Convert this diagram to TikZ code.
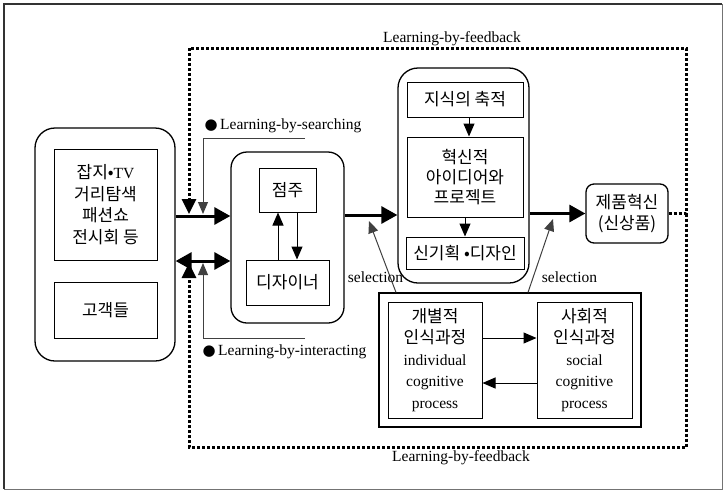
\documentclass[tikz,border=0pt]{standalone}
\usepackage{fontspec}
\setmainfont{Liberation Serif}
\newfontfamily\kr{Noto Sans CJK KR}
\newfontfamily\sym{DejaVu Sans}
\usetikzlibrary{arrows.meta}
\newcommand*{\TxtSize}{\fontsize{15.5}{21.5}\selectfont}
\newcommand*{\KrSize}{\fontsize{17}{21.5}\selectfont}
\newcommand*{\Lat}[1]{{\rmfamily\TxtSize #1}}

\begin{document}
\begin{tikzpicture}[x=1pt,y=-1pt,font=\TxtSize,
    group/.style={draw,line width=1.3pt,rounded corners=#1,inner sep=0pt},
    box/.style={draw,line width=1pt,inner sep=0pt,align=center,font=\kr\KrSize},
    thickarr/.style={line width=3pt,-{Triangle[length=16pt,width=17pt]}},
    dblarr/.style={line width=3pt,{Triangle[length=16pt,width=17pt]}-{Triangle[length=16pt,width=17pt]}},
    thinarr/.style={line width=1pt,-{Triangle[length=13pt,width=11pt]}},
    linkarr/.style={line width=1pt,black!75,-{Triangle[length=12pt,width=10pt]}},
    fb/.style={line width=3pt,dash pattern=on 3pt off 2pt,-{Triangle[length=15pt,width=14pt]}}]
    \useasboundingbox (0,0) rectangle (727,491);
    \draw[line width=2pt,black!80] (4,489) -- (4,4) -- (722,4);
    \draw[line width=1pt,black!55] (722,4) -- (722,489) -- (4,489);

    \node[group=20pt,minimum width=140pt,minimum height=233pt] (src) at (105,244.5) {};
    \node[box,minimum width=103pt,minimum height=111pt] (media) at (105.5,204.5)
        {잡지•\Lat{TV}\\거리탐색\\패션쇼\\전시회 등};
    \node[box,minimum width=103pt,minimum height=56pt] (cust) at (105.5,310) {고객들};

    \node[group=16pt,minimum width=113pt,minimum height=171pt] (mid) at (287.5,237.5) {};
    \node[box,minimum width=57pt,minimum height=44pt] (owner) at (287.5,190) {점주};
    \node[box,minimum width=83pt,minimum height=45pt] (designer) at (287.5,282.5) {디자이너};

    \node[group=20pt,minimum width=131pt,minimum height=215pt] (know) at (463.5,175.5) {};
    \node[box,minimum width=116pt,minimum height=35pt] (accum) at (465,99.5) {지식의 축적};
    \node[box,minimum width=116pt,minimum height=80pt,font=\kr\fontsize{17}{20}\selectfont] (idea) at (465,177)
        {혁신적\\아이디어와\\프로젝트};
    \node[box,minimum width=118pt,minimum height=32pt] (plan) at (465,253) {신기획 •디자인};

    \node[box,line width=1.3pt,rounded corners=8pt,minimum width=82pt,minimum height=59pt] (prod) at (627,213.5)
        {제품혁신\\(신상품)};

    \node[draw,line width=1.2pt,minimum width=262pt,minimum height=134pt] (cog) at (510,360) {};
    \node[box,minimum width=94pt,minimum height=116pt] (indiv) at (435,360)
        {개별적\\인식과정\\\Lat{individual}\\\Lat{cognitive}\\\Lat{process}};
    \node[box,minimum width=95pt,minimum height=116pt] (social) at (584.5,360)
        {사회적\\인식과정\\\Lat{social}\\\Lat{cognitive}\\\Lat{process}};

    \draw[thickarr] (src.east |- 0,216) -- (mid.west |- 0,216);
    \draw[dblarr] (src.east |- 0,261) -- (mid.west |- 0,261);
    \draw[thickarr] (mid.east |- 0,215) -- (know.west |- 0,215);
    \draw[thickarr] (know.east |- prod.west) -- (prod.west);

    \draw[thinarr] ([xshift=-9.5pt]designer.north) -- ([xshift=-9.5pt]owner.south);
    \draw[thinarr] ([xshift=9.5pt]owner.south) -- ([xshift=9.5pt]designer.north);
    \draw[thinarr] ([xshift=4pt]accum.south) -- ([xshift=4pt]idea.north);
    \draw[thinarr] (idea.south) -- (plan.north);
    \draw[thinarr] ([yshift=22pt]indiv.east) -- ([yshift=22pt]social.west);
    \draw[thinarr] ([yshift=-23pt]social.west) -- ([yshift=-23pt]indiv.east);

    \coordinate (srch) at (305,138);
    \coordinate (intr) at (305,338);
    \draw[linkarr] (srch) -| (203,214);
    \draw[linkarr] (intr) -| (203,263);
    \node[anchor=west] (srchlbl) at (201,126) {{\sym\fontsize{15}{15}\selectfont ●}\,Learning-by-searching};
    \node[anchor=west] (intrlbl) at (199,352) {{\sym\fontsize{15}{15}\selectfont ●}\,Learning-by-interacting};

    \coordinate (selA) at (369,221);
    \coordinate (selB) at (553,219);
    \draw[linkarr] (cog.north -| 396,0) -- (selA);
    \draw[linkarr] (cog.north -| 528,0) -- (selB);
    \node (selAlbl) at (375.5,277) {selection};
    \node (selBlbl) at (569.5,277) {selection};

    \coordinate (fbTL) at (189,48);
    \coordinate (fbTR) at (686,48);
    \coordinate (fbBL) at (189,447);
    \coordinate (fbBR) at (686,447);
    \draw[fb] (prod.east) -- (prod.east -| fbTR) -- (fbTR) -- (fbTL) -- (fbTL |- 0,214);
    \draw[fb] (prod.east -| fbBR) -- (fbBR) -- (fbBL) -- (fbBL |- 0,263);
    \node (fbtop) at (452,39) {Learning-by-feedback};
    \node (fbbot) at (461,458) {Learning-by-feedback};
\end{tikzpicture}
\end{document}
